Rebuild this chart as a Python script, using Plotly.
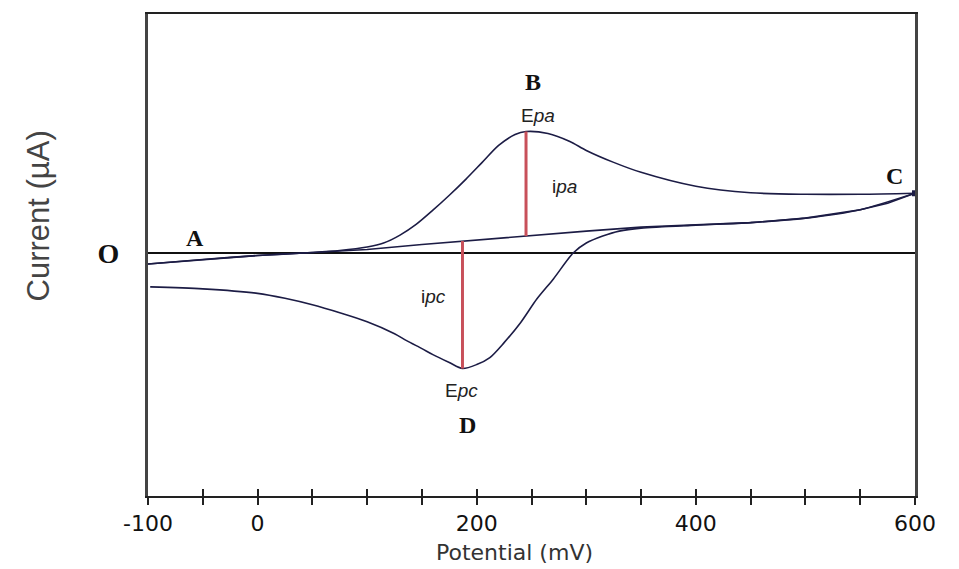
import plotly.graph_objects as go

# ---- data (potential in mV, current in arbitrary µA units) ----
fwd_x = [-100, -50, 0, 50, 75, 100, 115, 130, 145, 160, 175, 190, 205, 220, 235, 245, 265, 285, 300, 325, 350, 400, 450, 500, 550, 600]
fwd_y = [-1.1, -0.65, -0.25, 0.05, 0.25, 0.6, 1.0, 1.8, 2.9, 4.3, 5.8, 7.4, 9.1, 10.8, 11.9, 12.2, 12.0, 11.2, 10.3, 9.1, 8.1, 6.7, 6.05, 5.9, 5.9, 6.0]

rev_x = [600, 550, 500, 450, 400, 350, 330, 315, 300, 288, 270, 255, 240, 225, 212, 200, 187, 175, 160, 150, 136, 125, 100, 75, 50, 25, 0, -50, -98]
rev_y = [6.0, 4.35, 3.5, 3.05, 2.8, 2.5, 2.2, 1.7, 1.0, 0.0, -2.6, -4.6, -7.0, -9.0, -10.5, -11.2, -11.6, -11.0, -10.2, -9.6, -8.8, -8.1, -6.9, -6.0, -5.2, -4.55, -4.05, -3.6, -3.4]

base_x = [-100, -50, 0, 50, 100, 150, 187, 200, 245, 300, 350, 400, 450, 500, 550, 575, 600]
base_y = [-1.1, -0.65, -0.25, 0.05, 0.35, 0.85, 1.2, 1.3, 1.7, 2.2, 2.6, 2.8, 3.05, 3.5, 4.35, 5.0, 6.0]

epa_x, epa_peak, epa_base = 245, 12.2, 1.7
epc_x, epc_peak, epc_base = 187, -11.6, 1.2

tick_vals = list(range(-100, 601, 50))
tick_labels = {-100: "-100", 0: "0", 200: "200", 400: "400", 600: "600"}

point_labels = ["A", "B", "C", "D"]
point_x = [-57, 251, 581, 192]
point_y = [1.5, 17.2, 7.7, -17.3]

sub_labels = ["E<i>pa</i>", "i<i>pa</i>", "i<i>pc</i>", "E<i>pc</i>"]
sub_x = [256, 280, 161, 186]
sub_y = [13.8, 6.7, -4.4, -13.8]

# ---- figure ----
curve = dict(color="#1c1c45", width=1.6)
red = dict(color="#c8505a", width=3)

fig = go.Figure()
fig.add_trace(go.Scatter(x=base_x, y=base_y, mode="lines", line=curve, hoverinfo="skip"))
fig.add_trace(go.Scatter(x=fwd_x, y=fwd_y, mode="lines", line=dict(curve, shape="spline", smoothing=0.8), hoverinfo="skip"))
fig.add_trace(go.Scatter(x=rev_x, y=rev_y, mode="lines", line=dict(curve, shape="spline", smoothing=0.8), hoverinfo="skip"))
fig.add_trace(go.Scatter(x=[epa_x, epa_x], y=[epa_base, epa_peak], mode="lines", line=red, hoverinfo="skip"))
fig.add_trace(go.Scatter(x=[epc_x, epc_x], y=[epc_base, epc_peak], mode="lines", line=red, hoverinfo="skip"))
fig.add_trace(go.Scatter(x=[fwd_x[-1]], y=[fwd_y[-1]], mode="markers",
                         marker=dict(symbol="square", size=6, color="#1c1c45"), hoverinfo="skip"))
# invisible trace to carry the inside-tick axis
fig.add_trace(go.Scatter(x=[fwd_x[0]], y=[fwd_y[0]], xaxis="x2", mode="markers",
                         marker=dict(opacity=0), hoverinfo="skip"))

for t, x, y in zip(point_labels, point_x, point_y):
    fig.add_annotation(x=x, y=y, text=t, showarrow=False,
                       font=dict(family="Liberation Serif", size=24, color="#111", weight="bold"))
for t, x, y in zip(sub_labels, sub_x, sub_y):
    fig.add_annotation(x=x, y=y, text=t, showarrow=False,
                       font=dict(family="Liberation Sans", size=19, color="#222"))

fig.add_annotation(xref="paper", yref="paper", x=0.478, y=-0.1178, text="Potential (mV)",
                   showarrow=False, yanchor="middle",
                   font=dict(family="DejaVu Sans", size=22, color="#333"))
fig.add_annotation(xref="paper", yref="paper", x=0, xshift=-110, y=0.58, text="Current (µA)",
                   textangle=-90, showarrow=False, xanchor="center", yanchor="middle",
                   font=dict(family="Liberation Sans", size=31, color="#444"))

fig.update_layout(
    width=951, height=561,
    margin=dict(l=140, r=44, t=4, b=73),
    paper_bgcolor="white", plot_bgcolor="white",
    showlegend=False,
    xaxis=dict(range=[-100, 600], tickvals=tick_vals,
               ticktext=[tick_labels.get(v, "") for v in tick_vals],
               ticks="outside", ticklen=7, tickwidth=2, tickcolor="#222",
               showline=True, linecolor="#222", linewidth=2, mirror=True,
               showgrid=False, zeroline=False,
               tickfont=dict(family="DejaVu Sans", size=22, color="#111")),
    xaxis2=dict(range=[-100, 600], overlaying="x", anchor="y", side="bottom",
                tickvals=tick_vals, ticks="inside", ticklen=7, tickwidth=2, tickcolor="#222",
                showticklabels=False, showline=False, showgrid=False, zeroline=False),
    yaxis=dict(range=[-24.4, 24], tickvals=[0], ticktext=["O"], ticks="",
               tickfont=dict(family="Liberation Serif", size=28, color="#111", weight="bold"),
               ticklabelstandoff=20,
               showline=True, linecolor="#444", linewidth=3, mirror=True,
               showgrid=False, zeroline=True, zerolinecolor="#111", zerolinewidth=2),
)

fig.write_html("out.html")
